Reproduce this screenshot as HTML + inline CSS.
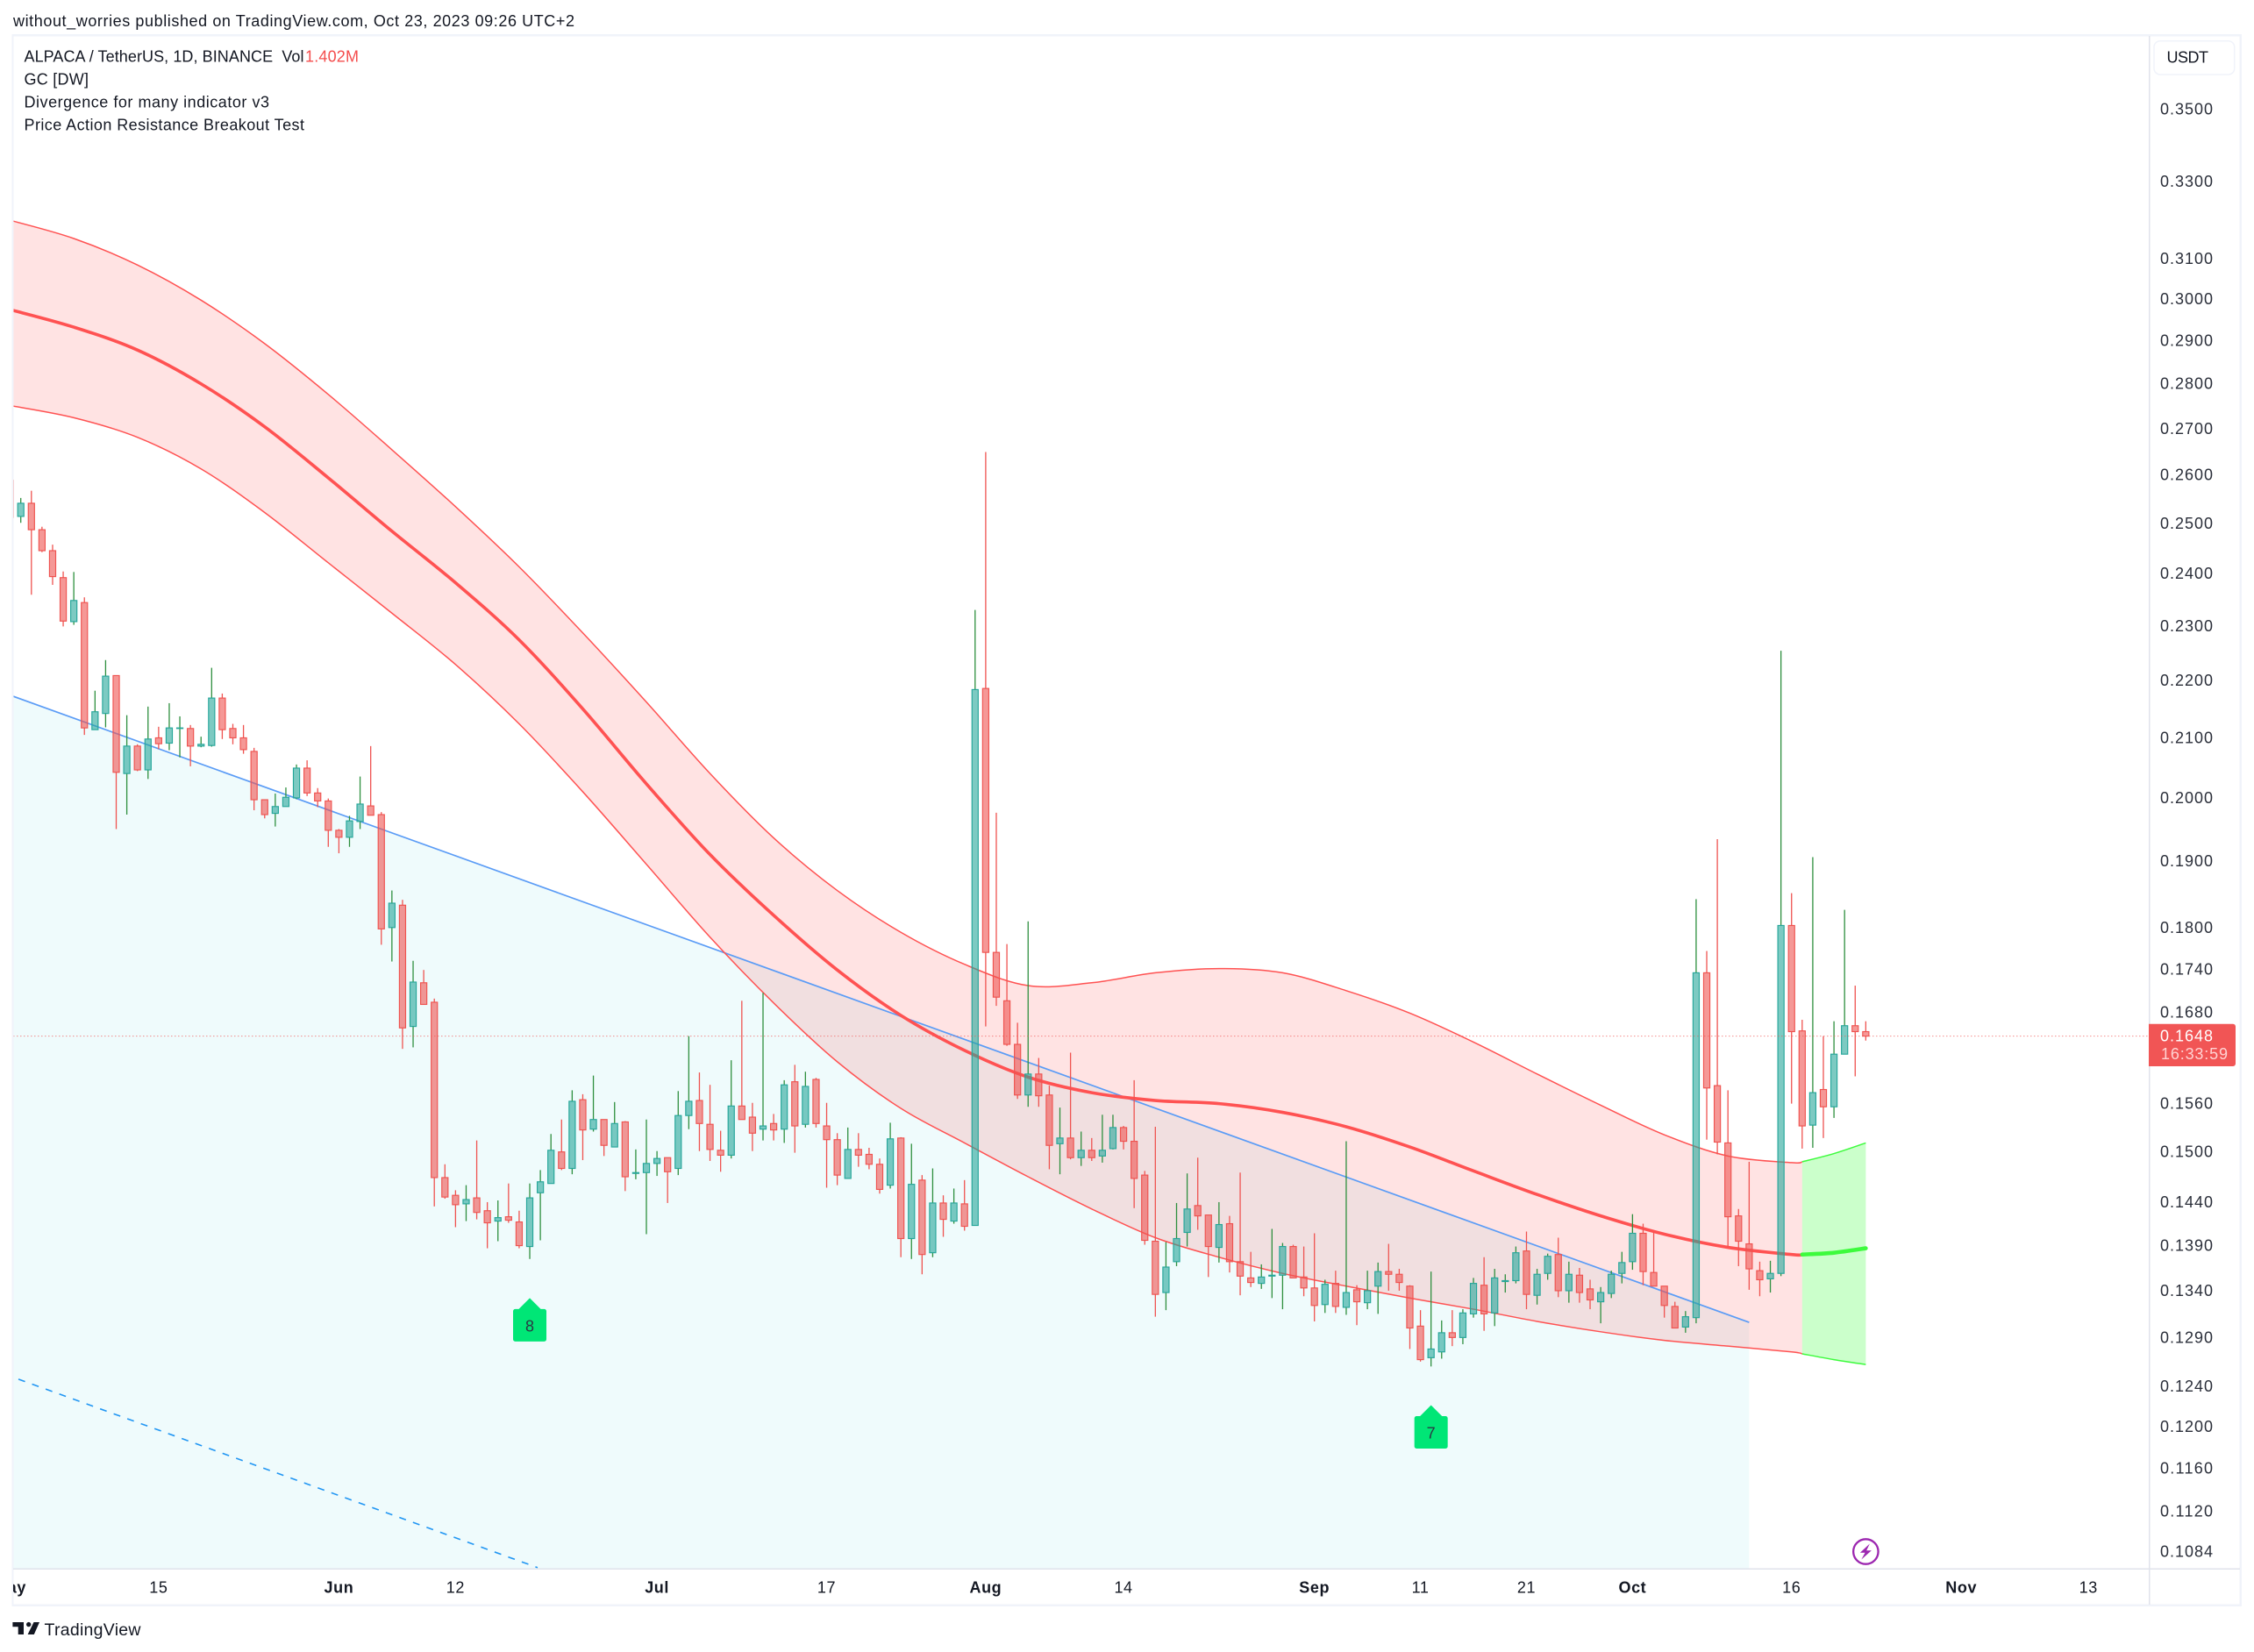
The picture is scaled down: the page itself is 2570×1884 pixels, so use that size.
<!DOCTYPE html>
<html lang="en">
<head>
<meta charset="utf-8">
<title>ALPACA / TetherUS chart</title>
<style>
html,body{margin:0;padding:0;background:#fff;width:2570px;height:1884px;overflow:hidden}
svg{display:block}
text{font-family:"Liberation Sans",sans-serif;font-size:18px;fill:#131722}
</style>
</head>
<body>
<svg id="chart" xmlns="http://www.w3.org/2000/svg" width="2570" height="1884" viewBox="0 0 2570 1884">
  <defs>
    <clipPath id="plot-clip"><rect x="15" y="41" width="2435.5" height="1747.5"/></clipPath>
    <clipPath id="time-clip"><rect x="15" y="1790" width="2435" height="40"/></clipPath>
  </defs>
  <rect x="0" y="0" width="2570" height="1884" fill="#ffffff"/>
  <text x="15" y="24" dominant-baseline="central" textLength="640" lengthAdjust="spacing">without_worries published on TradingView.com, Oct 23, 2023 09:26 UTC+2</text>

  <g id="plot" clip-path="url(#plot-clip)"></g>

  <g>
    <rect x="13.5" y="39" width="2542.5" height="2.5" fill="#f0f3fa"/>
    <rect x="13.5" y="39" width="2" height="1793" fill="#f0f3fa"/>
    <rect x="2553.5" y="39" width="2.5" height="1793" fill="#f0f3fa"/>
    <rect x="13.5" y="1829.5" width="2542.5" height="2.5" fill="#f0f3fa"/>
    <rect x="2450" y="41" width="1.5" height="1789" fill="#e0e3eb"/>
    <rect x="15" y="1788.5" width="2539" height="1.5" fill="#e0e3eb"/>
  </g>

  <g>
    <text x="27.5" y="64.7" dominant-baseline="central" textLength="319" lengthAdjust="spacing" xml:space="preserve">ALPACA / TetherUS, 1D, BINANCE  Vol</text>
    <text x="348" y="64.7" dominant-baseline="central" textLength="61" lengthAdjust="spacing" style="fill:#f44d4d">1.402M</text>
    <text x="27.5" y="90.7" dominant-baseline="central" textLength="73.5" lengthAdjust="spacing">GC [DW]</text>
    <text x="27.5" y="116.7" dominant-baseline="central" textLength="279.5" lengthAdjust="spacing">Divergence for many indicator v3</text>
    <text x="27.5" y="142.7" dominant-baseline="central" textLength="319.5" lengthAdjust="spacing">Price Action Resistance Breakout Test</text>
  </g>

  <g id="price-axis"></g>
  <g id="time-axis" clip-path="url(#time-clip)"></g>

  <g>
    <rect x="2456" y="46.7" width="91.7" height="38.3" rx="7" fill="#ffffff" stroke="#f0f3fa" stroke-width="1.5"/>
    <text x="2470.5" y="65.7" dominant-baseline="central" textLength="47.5" lengthAdjust="spacing">USDT</text>
  </g>

  <g>
    <path d="M2450 1167.7H2546a3 3 0 0 1 3 3V1213a3 3 0 0 1-3 3H2450Z" fill="#f15555"/>
    <text x="2463" y="1181.7" dominant-baseline="central" textLength="60" lengthAdjust="spacing" style="fill:#ffffff">0.1648</text>
    <text x="2464" y="1202" dominant-baseline="central" textLength="76" lengthAdjust="spacing" style="fill:#ffd3d3">16:33:59</text>
  </g>

  <g>
    <path d="M14.4 1850H27V1864H20.7V1855.2H14.4Z" fill="#131722"/>
    <circle cx="32.7" cy="1852.6" r="2.7" fill="#131722"/>
    <path d="M38.5 1850H45L38.8 1864H31.6Z" fill="#131722"/>
    <text x="50.5" y="1859" dominant-baseline="central" textLength="110" lengthAdjust="spacing" style="font-size:19.5px">TradingView</text>
  </g>
</svg>
<script>
// Bar 0 is May 1, 2023; one bar per day through Oct 23, 2023.
const opens = [
.2589,.2514,.2541,.2487,.2445,.2392,.2308,.2344,.2114,.2142,
.2209,.2040,.2086,.2046,.2100,.2091,.2116,.2116,.2086,.2087,
.2169,.2116,.2100,.2077,.1997,.1975,.1986,.2000,.2049,.2008,
.1995,.1948,.1937,.1962,.1987,.1973,.1800,.1833,.1661,.1721,
.1694,.1469,.1448,.1438,.1445,.1430,.1418,.1423,.1417,.1389,
.1451,.1462,.1500,.1480,.1565,.1528,.1540,.1506,.1537,.1474,
.1475,.1486,.1493,.1480,.1545,.1564,.1534,.1502,.1496,.1557,
.1543,.1528,.1535,.1528,.1588,.1534,.1591,.1532,.1515,.1468,
.1503,.1497,.1485,.1460,.1517,.1398,.1466,.1382,.1439,.1418,
.1438,.1413,.2186,.1764,.1696,.1637,.1571,.1598,.1571,.1510,
.1517,.1493,.1502,.1495,.1504,.1530,.1513,.1472,.1395,.1338,
.1372,.1405,.1436,.1425,.1388,.1415,.1372,.1354,.1348,.1356,
.1357,.1389,.1355,.1343,.1325,.1348,.1322,.1341,.1327,.1345,
.1361,.1358,.1345,.1302,.1269,.1275,.1295,.1290,.1315,.1346,
.1316,.1350,.1351,.1384,.1335,.1359,.1380,.1340,.1357,.1342,
.1328,.1337,.1359,.1372,.1404,.1360,.1345,.1323,.1301,.1311,
.1735,.1583,.1511,.1424,.1392,.1362,.1353,.1359,.1803,.1655,
.1533,.1578,.1556,.1624,.1662,.1654];
const highs = [
.2589,.2552,.2567,.2493,.2457,.2404,.2403,.2354,.2182,.2237,
.2209,.2139,.2089,.2154,.2119,.2160,.2137,.2122,.2102,.2223,
.2177,.2124,.2122,.2083,.1997,.2007,.2017,.2055,.2062,.2016,
.1999,.1950,.1971,.2035,.2086,.1977,.1855,.1841,.1752,.1739,
.1699,.1485,.1454,.1460,.1514,.1440,.1442,.1462,.1430,.1462,
.1478,.1522,.1540,.1577,.1572,.1596,.1540,.1562,.1538,.1503,
.1540,.1501,.1493,.1576,.1648,.1600,.1584,.1526,.1616,.1696,
.1561,.1707,.1547,.1590,.1610,.1601,.1593,.1561,.1523,.1530,
.1523,.1505,.1492,.1536,.1518,.1510,.1472,.1480,.1448,.1456,
.1466,.2330,.2649,.1976,.1776,.1666,.1809,.1619,.1583,.1555,
.1626,.1525,.1517,.1546,.1546,.1532,.1590,.1477,.1531,.1394,
.1439,.1474,.1493,.1425,.1440,.1424,.1475,.1383,.1369,.1409,
.1393,.1391,.1389,.1404,.1352,.1362,.1513,.1346,.1362,.1371,
.1392,.1364,.1346,.1319,.1361,.1308,.1319,.1320,.1354,.1377,
.1364,.1358,.1389,.1406,.1364,.1381,.1399,.1372,.1365,.1352,
.1344,.1362,.1383,.1426,.1415,.1405,.1345,.1328,.1318,.1842,
.1766,.1934,.1577,.1432,.1488,.1372,.1373,.2254,.1851,.1670,
.1906,.1648,.1668,.1826,.1717,.1668];
const lows = [
.2512,.2501,.2359,.2442,.2378,.2299,.2302,.2105,.2114,.2118,
.1950,.1973,.2044,.2031,.2081,.2079,.2067,.2052,.2084,.2085,
.2098,.2089,.2073,.1980,.1967,.1954,.1986,.1998,.2003,.1985,
.1922,.1912,.1922,.1950,.1972,.1775,.1751,.1631,.1633,.1691,
.1435,.1444,.1411,.1418,.1420,.1387,.1395,.1416,.1387,.1375,
.1396,.1462,.1478,.1473,.1490,.1525,.1495,.1506,.1453,.1467,
.1403,.1471,.1439,.1472,.1528,.1501,.1489,.1476,.1492,.1540,
.1501,.1514,.1514,.1511,.1499,.1530,.1530,.1457,.1460,.1468,
.1482,.1479,.1450,.1456,.1377,.1375,.1358,.1377,.1400,.1415,
.1407,.1413,.1661,.1689,.1635,.1566,.1556,.1556,.1479,.1473,
.1491,.1483,.1489,.1487,.1503,.1503,.1433,.1391,.1312,.1319,
.1367,.1389,.1408,.1355,.1371,.1360,.1335,.1344,.1342,.1332,
.1320,.1354,.1334,.1307,.1316,.1316,.1314,.1303,.1320,.1315,
.1340,.1340,.1278,.1265,.1260,.1268,.1281,.1283,.1311,.1297,
.1302,.1338,.1348,.1320,.1325,.1352,.1333,.1327,.1327,.1320,
.1305,.1332,.1348,.1363,.1346,.1345,.1311,.1300,.1295,.1305,
.1515,.1497,.1389,.1367,.1341,.1334,.1338,.1356,.1560,.1504,
.1505,.1517,.1542,.1624,.1595,.1642];
const closes = [
.2512,.2541,.2487,.2445,.2394,.2309,.2348,.2117,.2145,.2208,
.2042,.2086,.2046,.2098,.2090,.2117,.2117,.2086,.2089,.2169,
.2114,.2100,.2080,.1997,.1973,.1986,.2001,.2049,.2008,.1995,
.1948,.1937,.1963,.1990,.1972,.1798,.1836,.1659,.1722,.1691,
.1469,.1446,.1437,.1443,.1428,.1416,.1422,.1419,.1390,.1445,
.1464,.1502,.1480,.1563,.1527,.1540,.1508,.1535,.1470,.1475,
.1486,.1492,.1476,.1545,.1563,.1535,.1503,.1496,.1557,.1540,
.1523,.1532,.1527,.1584,.1532,.1582,.1535,.1515,.1472,.1503,
.1496,.1485,.1455,.1516,.1398,.1461,.1380,.1439,.1420,.1439,
.1412,.2184,.1764,.1701,.1637,.1571,.1598,.1570,.1508,.1517,
.1493,.1502,.1493,.1502,.1530,.1513,.1468,.1396,.1336,.1366,
.1398,.1432,.1424,.1389,.1414,.1372,.1356,.1349,.1355,.1357,
.1389,.1354,.1343,.1324,.1347,.1323,.1338,.1328,.1340,.1361,
.1358,.1349,.1300,.1267,.1278,.1295,.1290,.1316,.1348,.1315,
.1354,.1351,.1382,.1336,.1358,.1378,.1340,.1358,.1338,.1330,
.1338,.1358,.1371,.1404,.1361,.1345,.1324,.1300,.1312,.1735,
.1580,.1512,.1423,.1395,.1364,.1352,.1359,.1803,.1654,.1532,
.1574,.1556,.1624,.1662,.1654,.1648];

// Gaussian-channel curves, sampled on bar numbers.
const channelBars = [0,6,12,18,24,30,36,42,48,54,60,66,72,78,84,90,96,102,108,114,120,126,132,138,144,150,156,162,168,169,172,175];
const channelUpper = [.3198,.3151,.3084,.2997,.2893,.2776,.2654,.2534,.2413,.2287,.2162,.2040,.1936,.1855,.1793,.1747,.1717,.1721,.1735,.1741,.1735,.1710,.1679,.1640,.1598,.1558,.1521,.1495,.1487,.1488,.1498,.1511];
const channelMiddle = [.2974,.2932,.2878,.2800,.2704,.2594,.2484,.2382,.2274,.2150,.2023,.1910,.1818,.1739,.1676,.1629,.1594,.1574,.1564,.1560,.1549,.1531,.1506,.1477,.1449,.1424,.1403,.1388,.1380,.1380,.1382,.1387];
const channelLower = [.2751,.2724,.2681,.2613,.2522,.2421,.2324,.2229,.2124,.2010,.1895,.1786,.1693,.1614,.1554,.1511,.1470,.1432,.1399,.1377,.1359,.1345,.1332,.1320,.1307,.1296,.1287,.1281,.1275,.1273,.1267,.1262];
const channelGreenFromBar = 169;

// Trend lines.
const trendBars = [0,164];
const trendPrices = [.2174,.1306];
const dashedBars = [0.78,49.74];
const dashedPrices = [.1247,.1070];

// Axis ticks.
const priceTicks = [.35,.33,.31,.30,.29,.28,.27,.26,.25,.24,.23,.22,.21,.20,.19,.18,.174,.168,.156,.15,.144,.139,.134,.129,.124,.12,.116,.112,.1084];
const priceTickLabels = ['0.3500','0.3300','0.3100','0.3000','0.2900','0.2800','0.2700','0.2600','0.2500','0.2400','0.2300','0.2200','0.2100','0.2000','0.1900','0.1800','0.1740','0.1680','0.1560','0.1500','0.1440','0.1390','0.1340','0.1290','0.1240','0.1200','0.1160','0.1120','0.1084'];
const timeTickBars = [0,14,31,42,61,77,92,105,123,133,143,153,168,184,196];
const timeTickLabels = ['May','15','Jun','12','Jul','17','Aug','14','Sep','11','21','Oct','16','Nov','13'];
const timeTickMajor = [1,0,1,0,1,0,1,0,1,0,0,1,0,1,0];

// Signals and last price.
const markerBars = [49,134];
const markerPrices = [.1332,.1221];
const markerLabels = ['8','7'];
const lastPrice = .1648;
const eventBars = [175];
const eventPrices = [.1084];

const NS = 'http://www.w3.org/2000/svg';
const plotBottom = 1788.5;
function yOf(p){ return 1057.8 + 1403.4 * Math.log(0.18 / p); }
function xOf(b){ return 11.61 + 12.09 * b; }
function make(tag, parent, props){
  const el = document.createElementNS(NS, tag);
  for (const k in props) el.setAttribute(k, props[k]);
  parent.appendChild(el);
  return el;
}
function toPoints(bars, prices){
  return bars.map(function(b, i){ return [xOf(b), yOf(prices[i])]; });
}
function smooth(pts){
  let d = 'M' + pts[0][0].toFixed(2) + ' ' + pts[0][1].toFixed(2);
  for (let i = 0; i < pts.length - 1; i++){
    const p0 = pts[Math.max(i - 1, 0)], p1 = pts[i], p2 = pts[i + 1], p3 = pts[Math.min(i + 2, pts.length - 1)];
    const c1x = p1[0] + (p2[0] - p0[0]) / 6, c1y = p1[1] + (p2[1] - p0[1]) / 6;
    const c2x = p2[0] - (p3[0] - p1[0]) / 6, c2y = p2[1] - (p3[1] - p1[1]) / 6;
    d += 'C' + c1x.toFixed(2) + ' ' + c1y.toFixed(2) + ' ' + c2x.toFixed(2) + ' ' + c2y.toFixed(2) + ' ' + p2[0].toFixed(2) + ' ' + p2[1].toFixed(2);
  }
  return d;
}
function band(upper, lower){
  return smooth(upper) + smooth(lower.slice().reverse()).replace('M', 'L') + 'Z';
}

const plot = document.getElementById('plot');

// Trend fill below the blue line.
const tp = toPoints(trendBars, trendPrices);
const trendFill = make('path', plot, {
  d: 'M' + tp[0][0] + ' ' + tp[0][1] + 'L' + tp[1][0] + ' ' + tp[1][1] + 'L' + tp[1][0] + ' ' + plotBottom + 'L' + tp[0][0] + ' ' + plotBottom + 'Z',
  fill: 'rgba(0,188,212,0.062)'
});



// Channel: red part then green part.
const splitAt = channelBars.indexOf(channelGreenFromBar);
const upperPts = toPoints(channelBars, channelUpper);
const middlePts = toPoints(channelBars, channelMiddle);
const lowerPts = toPoints(channelBars, channelLower);
const parts = [
  { up: upperPts.slice(0, splitAt + 1), mid: middlePts.slice(0, splitAt + 1), low: lowerPts.slice(0, splitAt + 1), line: '#ff5252', fill: 'rgba(255,82,82,0.165)', midWidth: 3.6 },
  { up: upperPts.slice(splitAt), mid: middlePts.slice(splitAt), low: lowerPts.slice(splitAt), line: '#3dfb3d', fill: 'rgba(0,255,0,0.205)', midWidth: 4.6 }
];
parts.forEach(function(part){
  const fill = make('path', plot, { d: band(part.up, part.low), fill: part.fill });
  
  
});

const trendLine = make('line', plot, { x1: tp[0][0], y1: tp[0][1], x2: tp[1][0], y2: tp[1][1], stroke: '#5b9cf6', 'stroke-width': 1.7 });



const dp = toPoints(dashedBars, dashedPrices);
const dashedLine = make('line', plot, { x1: dp[0][0], y1: dp[0][1], x2: dp[1][0], y2: dp[1][1], stroke: '#2196f3', 'stroke-width': 1.6, 'stroke-dasharray': '8 8.5' });



parts.forEach(function(part){
  const upper = make('path', plot, { d: smooth(part.up), fill: 'none', stroke: part.line, 'stroke-width': 1.5 });
  
  
  const lower = make('path', plot, { d: smooth(part.low), fill: 'none', stroke: part.line, 'stroke-width': 1.5 });
  
  
  const middle = make('path', plot, { d: smooth(part.mid), fill: 'none', stroke: part.line, 'stroke-width': part.midWidth, 'stroke-linecap': 'round' });
  
  
});

// Candles.
opens.forEach(function(open, i){
  const close = closes[i];
  const up = close >= open;
  const x = xOf(i);
  const top = yOf(Math.max(open, close));
  const bottom = yOf(Math.min(open, close));
  const wick = up ? '#2e8f3e' : '#ef5350';
  const wickHigh = make('line', plot, { x1: x, x2: x, y1: yOf(highs[i]), y2: top, stroke: wick, 'stroke-width': 1.3 });
  
  
  const wickLow = make('line', plot, { x1: x, x2: x, y1: bottom, y2: yOf(lows[i]), stroke: wick, 'stroke-width': 1.3 });
  
  
  const body = make('rect', plot, {
    x: x - 3.55, y: top, width: 7.1, height: Math.max(bottom - top, 0.6),
    fill: up ? 'rgba(38,166,154,0.6)' : 'rgba(239,83,80,0.6)',
    stroke: up ? '#26a69a' : '#ef5350', 'stroke-width': 1.15
  });
  
  
});

// Last-price dotted line.
const priceLine = make('line', plot, { x1: 15, x2: 2450, y1: yOf(lastPrice), y2: yOf(lastPrice), stroke: 'rgba(239,83,80,0.65)', 'stroke-width': 1, 'stroke-dasharray': '1.5 2.5' });



// Signal markers.
markerBars.forEach(function(bar, i){
  const x = xOf(bar);
  const tip = yOf(markerPrices[i]);
  const marker = make('path', plot, {
    d: 'M' + x + ' ' + tip + 'L' + (x + 12.5) + ' ' + (tip + 12.5) + 'H' + (x + 16.5) + 'a2.5 2.5 0 0 1 2.5 2.5V' + (tip + 47) + 'a2.5 2.5 0 0 1 -2.5 2.5H' + (x - 16.5) + 'a2.5 2.5 0 0 1 -2.5 -2.5V' + (tip + 15) + 'a2.5 2.5 0 0 1 2.5 -2.5H' + (x - 12.5) + 'Z',
    fill: '#00e676'
  });
  
  
  const label = make('text', plot, { x: x, y: tip + 32, 'text-anchor': 'middle', 'dominant-baseline': 'central' });
  label.style.fill = '#2a3a44';
  label.textContent = markerLabels[i];
  
  
});

// Event icon.
eventBars.forEach(function(bar, i){
  const x = xOf(bar);
  const y = yOf(eventPrices[i]);
  const ring = make('circle', plot, { cx: x, cy: y, r: 14.2, fill: '#ffffff', stroke: '#9c27b0', 'stroke-width': 2.3 });
  
  
  const bolt = make('path', plot, {
    d: 'M' + (x + 4.5) + ' ' + (y - 9) + 'L' + (x - 6.5) + ' ' + (y + 1.2) + 'H' + (x - 0.8) + 'L' + (x - 5) + ' ' + (y + 9) + 'L' + (x + 6.5) + ' ' + (y - 1.2) + 'H' + (x + 0.8) + 'Z',
    fill: '#9c27b0'
  });
  
  
});

// Price axis labels.
const priceAxis = document.getElementById('price-axis');
priceTicks.forEach(function(p, i){
  const tick = make('text', priceAxis, { x: 2463, y: yOf(p), 'dominant-baseline': 'central', textLength: 60, lengthAdjust: 'spacing' });
  tick.style.fill = '#2a2e39';
  tick.textContent = priceTickLabels[i];
  
  
});

// Time axis labels.
const timeAxis = document.getElementById('time-axis');
timeTickBars.forEach(function(b, i){
  const tick = make('text', timeAxis, { x: xOf(b), y: 1810.7, 'text-anchor': 'middle', 'dominant-baseline': 'central', 'letter-spacing': 0.6 });
  if (timeTickMajor[i]) tick.setAttribute('font-weight', '700');
  tick.textContent = timeTickLabels[i];
  
  
});
</script>
</body>
</html>
